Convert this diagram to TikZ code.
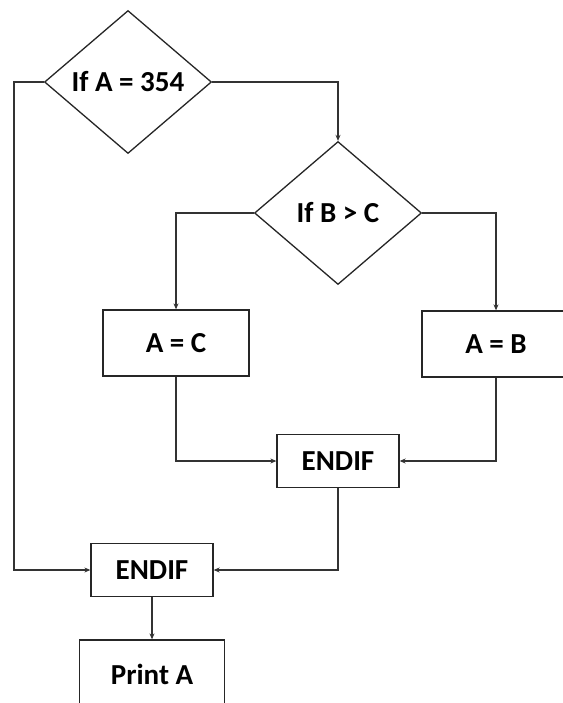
\documentclass[tikz,border=0pt]{standalone}
\usepackage{fontspec}
\setmainfont{Carlito}
\usetikzlibrary{shapes.geometric, arrows.meta, positioning}

\begin{document}
\begin{tikzpicture}[
        x=1pt, y=-1pt,
        decision/.style={diamond, draw=black!85, line width=1.3pt, fill=white, minimum width=167pt, minimum height=143pt, inner sep=0pt, font=\fontsize{29}{34}\selectfont\bfseries},
        block/.style={rectangle, draw=black!85, line width=1.3pt, fill=white, minimum width=146pt, minimum height=66pt, font=\fontsize{29}{34}\selectfont\bfseries},
        endbox/.style={block, minimum width=122pt, minimum height=53pt},
        arr/.style={-{Stealth[length=6pt, width=5pt]}, line width=1.2pt, draw=black!80}
    ]
        \useasboundingbox (0,0) rectangle (562,703);
        \node[decision] (ifa) at (128, 82) {If A = 354};
        \node[decision] (ifb) at (338, 213) {If B > C};
        \node[block] (ac) at (176, 343) {A = C};
        \node[block, minimum width=148pt] (ab) at (496, 344) {A = B};
        \node[endbox] (endb) at (338, 461) {ENDIF};
        \node[endbox] (enda) at (152, 570) {ENDIF};
        \node[block, minimum width=145pt, minimum height=68pt] (print) at (152, 674) {Print A};
        \coordinate (left) at (14, 82);
        \draw[arr] (ifa.east) -| (ifb.north);
        \draw[arr] (ifb.west) -| (ac.north);
        \draw[arr] (ifb.east) -| (ab.north);
        \draw[arr] (ac.south) |- (endb.west);
        \draw[arr] (ab.south) |- (endb.east);
        \draw[arr] (endb.south) |- (enda.east);
        \draw[arr] (ifa.west) -- (left) |- (enda.west);
        \draw[arr] (enda.south) -- (print.north);
    \end{tikzpicture}
\end{document}
